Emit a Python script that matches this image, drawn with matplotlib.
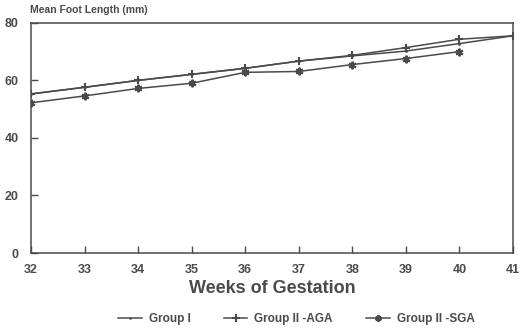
import matplotlib
matplotlib.use("Agg")
import matplotlib.pyplot as plt

weeks = [32, 33, 34, 35, 36, 37, 38, 39, 40, 41]
group_1 = [55.3, 57.6, 60.0, 62.1, 64.2, 66.7, 68.5, 70.2, 72.8, 75.5]
group_2_aga = [55.3, 57.6, 60.0, 62.1, 64.2, 66.7, 68.7, 71.4, 74.3, 75.5]
sga_weeks = [32, 33, 34, 35, 36, 37, 38, 39, 40]
group_2_sga = [52.2, 54.6, 57.2, 59.0, 62.8, 63.1, 65.5, 67.6, 70.0]

yticks = [0, 20, 40, 60, 80]
xticks = weeks

ink = "#4a4a4a"
plt.rcParams["font.family"] = ["Liberation Sans", "DejaVu Sans"]
plt.rcParams["font.weight"] = "bold"

fig = plt.figure(figsize=(5.2, 3.36), dpi=100)
ax = fig.add_axes([0.0596, 0.247, 0.927, 0.685])

ax.plot(weeks, group_1, color=ink, lw=1.1, marker=".", ms=2, label="Group I")
ax.plot(weeks, group_2_aga, color=ink, lw=1.1, marker="+", ms=6, mew=1.5, label="Group II -AGA")
ax.plot(sga_weeks, group_2_sga, color=ink, lw=1.1, marker=(6, 2, 0), ms=5.5, mew=1.5, label="Group II -SGA")

ax.set_xlim(32, 41)
ax.set_ylim(0, 80)
ax.set_xticks(xticks)
ax.set_yticks(yticks)
ax.tick_params(direction="in", length=5, width=1, color=ink, labelcolor=ink, labelsize=9)
ax.tick_params(axis="x", pad=8)
ax.tick_params(axis="y", pad=9)
for s in ax.spines.values():
    s.set_color(ink)
    s.set_linewidth(1.1)

ax.set_xlabel("Weeks of Gestation", fontsize=13, fontweight="bold", color=ink, labelpad=3)
fig.text(0.058, 0.955, "Mean Foot Length (mm)", fontsize=7.5, fontweight="bold", color=ink,
         ha="left", va="bottom")

leg = fig.legend(loc="lower center", bbox_to_anchor=(0.57, 0.0), ncol=3, frameon=False,
                 fontsize=8.5, handlelength=2.0, columnspacing=2.8, handletextpad=0.6,
                 markerscale=0.85)
for t in leg.get_texts():
    t.set_color(ink)

fig.savefig("out.png", dpi=100)
